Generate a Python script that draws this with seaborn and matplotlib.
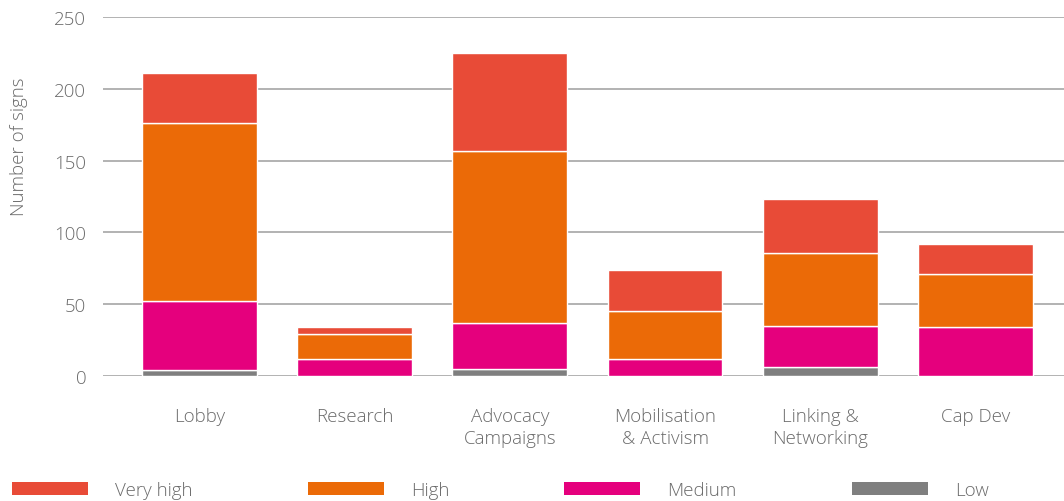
import numpy as np
import pandas as pd
import matplotlib
matplotlib.use("Agg")
import matplotlib.pyplot as plt
import seaborn as sns
from matplotlib.patches import Patch

# data
categories = ["Lobby", "Research", "Advocacy\nCampaigns", "Mobilisation\n& Activism",
              "Linking &\nNetworking", "Cap Dev"]
low = [4, 0, 5, 0, 6, 0]
medium = [48, 12, 32, 12, 29, 34]
high = [124, 17, 120, 33, 51, 37]
very_high = [35, 5, 68, 29, 37, 21]
levels = ["Very high", "High", "Medium", "Low"]
colors = {"Very high": "#E84B37", "High": "#EB6A07", "Medium": "#E5007D", "Low": "#7F7F7F"}

sns.set_style("white")
plt.rcParams['font.family'] = ['Open Sans', 'DejaVu Sans']
plt.rcParams['font.weight'] = 'light'
grey = "#6a6a6a"
fs = 13.5

fig = plt.figure(figsize=(10.64, 5.02), dpi=100)
ax = fig.add_axes([103 / 1064, 1 - 377 / 502, 1 - 103 / 1064, 359 / 502])

ax.set_axisbelow(True)
ax.yaxis.grid(True, color="#a6a6a6", linewidth=1.2)

series = [("Low", low), ("Medium", medium), ("High", high), ("Very high", very_high)]
bottom = np.zeros(len(categories))
for name, vals in series:
    vals = np.array(vals, dtype=float)
    sns.barplot(x=categories, y=vals, bottom=bottom, color=colors[name],
                width=0.74, edgecolor="white", linewidth=1, saturation=1, ax=ax)
    bottom = bottom + vals

ax.set_ylim(0, 250)
ax.set_xlim(-0.62, 5.57)
ax.set_yticks([0, 50, 100, 150, 200, 250])
ax.tick_params(axis="y", length=0, pad=12, labelsize=fs, labelcolor=grey)
ax.tick_params(axis="x", length=0, pad=22.5, labelsize=fs, labelcolor=grey)
for lab in ax.get_xticklabels():
    lab.set_linespacing(1.27)
sns.despine(ax=ax, left=True, bottom=True)
ax.set_ylabel("")
fig.text(19 / 1064, 1 - 147 / 502, "Number of signs", rotation=90, ha="center",
         va="center", fontsize=fs, color=grey)

handles = [Patch(facecolor=colors[l], edgecolor="none") for l in levels]
leg = fig.legend(handles, levels, loc="lower left", bbox_to_anchor=(12 / 1064, 0.004),
                 ncol=4, frameon=False, fontsize=fs, handlelength=4.05, handleheight=0.7,
                 handletextpad=1.44, columnspacing=6.15, borderpad=0, borderaxespad=0)
for t in leg.get_texts():
    t.set_color(grey)

fig.savefig("out.png", dpi=100)
